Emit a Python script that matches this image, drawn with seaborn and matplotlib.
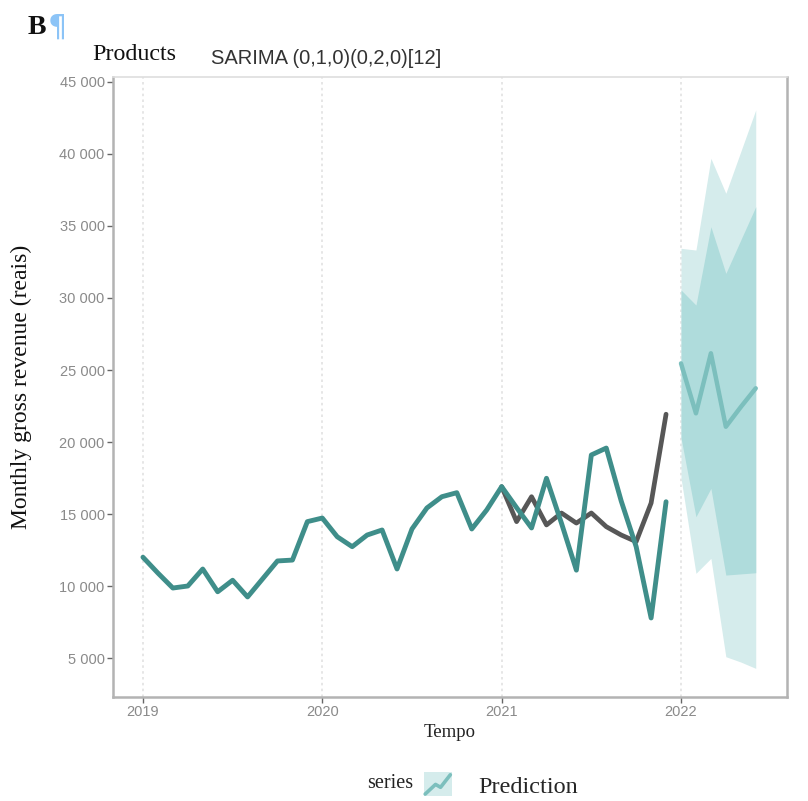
import numpy as np
import pandas as pd
import matplotlib
matplotlib.use("Agg")
import matplotlib.pyplot as plt
import seaborn as sns
from matplotlib.patches import Rectangle
from matplotlib.lines import Line2D
from matplotlib.legend_handler import HandlerBase
from matplotlib.ticker import FuncFormatter, FixedLocator

# ---------------- data ----------------
start_year = 2019
fitted_months = list(range(0, 36))
fitted_values = [12000, 10900, 9860, 10000, 11180, 9600, 10400, 9240, 10490, 11740,
                 11800, 14470, 14720, 13420, 12730, 13540, 13890, 11180, 13960, 15420,
                 16200, 16480, 13960, 15280, 16900, 15440, 14030, 17480, 14370, 11100,
                 19100, 19580, 15900, 12730, 7780, 15850]
actual_months = list(range(24, 36))
actual_values = [16900, 14470, 16200, 14240, 15070, 14370, 15070, 14120, 13540, 13080,
                 15760, 21930]
fc_months = list(range(36, 42))
fc_mean = [25460, 21990, 26160, 21060, 22430, 23730]
fc_lo80 = [20300, 14810, 16780, 10760, 10840, 10920]
fc_hi80 = [30560, 29510, 34950, 31710, 34030, 36340]
fc_lo95 = [17500, 10880, 11920, 5090, 4720, 4280]
fc_hi95 = [33450, 33330, 39700, 37270, 40170, 43060]
year_ticks = [2019, 2020, 2021, 2022]
y_ticks = [5000, 10000, 15000, 20000, 25000, 30000, 35000, 40000, 45000]

# ---------------- style ----------------
sns.set_theme(style="white")
plt.rcParams["font.family"] = ["Liberation Sans", "DejaVu Sans"]
SERIF = ["Liberation Serif", "DejaVu Serif"]

TEAL = "#3f8e8a"
DARK = "#575757"
FC_LINE = "#7cbfbd"
BAND80 = "#afdcdc"
BAND95 = "#d5ecec"

df_fit = pd.DataFrame({"time": start_year + np.array(fitted_months) / 12.0,
                       "value": fitted_values})
df_act = pd.DataFrame({"time": start_year + np.array(actual_months) / 12.0,
                       "value": actual_values})
df_fc = pd.DataFrame({"time": start_year + np.array(fc_months) / 12.0,
                      "mean": fc_mean, "lo80": fc_lo80, "hi80": fc_hi80,
                      "lo95": fc_lo95, "hi95": fc_hi95})

fig = plt.figure(figsize=(8.08, 8.01), dpi=100)
ax = fig.add_axes([113 / 808, 1 - 697 / 801, 674 / 808, 620 / 801])

ax.fill_between(df_fc["time"], df_fc["lo95"], df_fc["hi95"], color=BAND95, lw=0, zorder=1)
ax.fill_between(df_fc["time"], df_fc["lo80"], df_fc["hi80"], color=BAND80, lw=0, zorder=1.1)
sns.lineplot(data=df_fc, x="time", y="mean", color=FC_LINE, lw=3.2, ax=ax, zorder=2)
sns.lineplot(data=df_act, x="time", y="value", color=DARK, lw=3.4, ax=ax, zorder=2.5)
sns.lineplot(data=df_fit, x="time", y="value", color=TEAL, lw=3.5, ax=ax, zorder=3)

ax.set_xlim(2018.833, 2022.591)
ax.set_ylim(2292, 45347)
ax.xaxis.set_major_locator(FixedLocator(year_ticks))
ax.yaxis.set_major_locator(FixedLocator(y_ticks))
ax.xaxis.set_major_formatter(FuncFormatter(lambda v, p: f"{int(round(v))}"))
ax.yaxis.set_major_formatter(FuncFormatter(lambda v, p: f"{int(v):,}".replace(",", " ")))

ax.grid(False)
ax.xaxis.grid(True, linestyle=(0, (1.5, 2.0)), color="#e2e2e2", lw=1.2)
ax.set_axisbelow(True)

for side in ["left", "bottom", "right"]:
    ax.spines[side].set_color("#b3b3b3")
    ax.spines[side].set_linewidth(1.8)
ax.spines["top"].set_color("#dedede")
ax.spines["top"].set_linewidth(1.2)

ax.tick_params(bottom=True, left=True, direction="out", length=4, width=1,
               color="#666666", labelsize=10.5, labelcolor="#8a8a8a", pad=2)

ax.set_xlabel("Tempo", family=SERIF, fontsize=13.5, color="#222222")
ax.xaxis.set_label_coords(0.5, -0.043)
ax.set_ylabel("Monthly gross revenue (reais)", family=SERIF, fontsize=17, color="#111111")
ax.yaxis.set_label_coords(-0.12, 0.5)

# header texts
fig.text(28 / 808, 1 - 27 / 801, "B", family=SERIF, fontsize=20, weight="bold",
         color="#111111", va="center", ha="left")
fig.text(48 / 808, 1 - 27 / 801, "¶", family=["DejaVu Sans"], fontsize=22,
         color="#8cc4f7", va="center", ha="left")
fig.text(92 / 808, 1 - 55 / 801, "Products", family=SERIF, fontsize=17.3,
         color="#111111", va="center", ha="left")
fig.text(211 / 808, 1 - 59 / 801, "SARIMA (0,1,0)(0,2,0)[12]", fontsize=14.5,
         color="#333333", va="center", ha="left")


class ZigzagHandler(HandlerBase):
    def create_artists(self, legend, orig_handle, xdescent, ydescent, width, height,
                       fontsize, trans):
        bg = Rectangle((-xdescent, -ydescent), width, height, facecolor=BAND95,
                       edgecolor="none", transform=trans)
        fx = [0.05, 0.42, 0.6, 0.95]
        fy = [0.1, 0.5, 0.38, 0.9]
        ln = Line2D([-xdescent + f * width for f in fx],
                    [-ydescent + f * height for f in fy],
                    color=FC_LINE, lw=2.6, transform=trans)
        return [bg, ln]


# legend
fig.text(367 / 808, 1 - 784 / 801, "series", family=SERIF, fontsize=14.5,
         color="#222222", va="center", ha="left")
handle = Line2D([], [], color=FC_LINE, lw=3)
fig.legend(handles=[handle], labels=["Prediction"],
           handler_map={Line2D: ZigzagHandler()},
           loc="center", bbox_to_anchor=(501 / 808, 1 - 785 / 801),
           frameon=False, prop={"family": SERIF, "size": 17.5},
           handlelength=1.15, handleheight=1.15, handletextpad=1.1,
           borderpad=0.2)

fig.savefig("out.png", dpi=100)
